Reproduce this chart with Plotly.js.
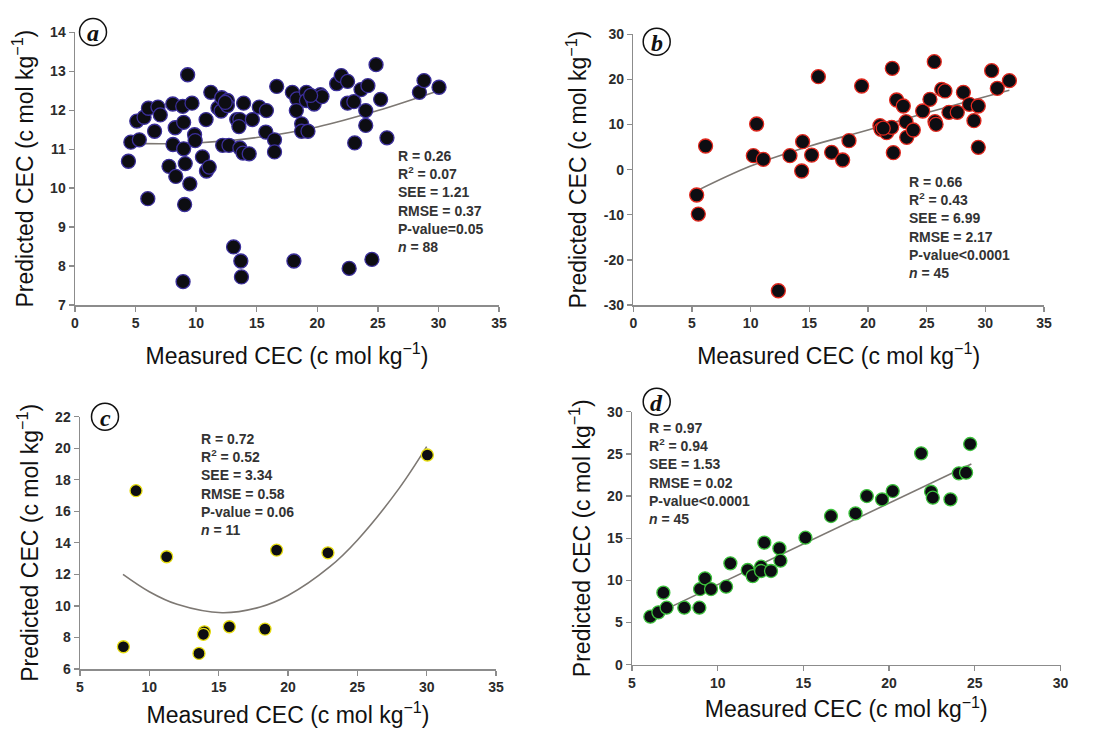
<!DOCTYPE html>
<html><head><meta charset="utf-8">
<script src="https://cdn.plot.ly/plotly-3.0.1.min.js"></script>
<style>html,body{margin:0;padding:0;background:#fff}#chart{width:1106px;height:731px}</style>
</head><body><div id="chart"></div>
<script>
// ---- Panel a ----
const measuredA = [4.41,4.61,5.10,5.31,5.70,6.06,6.01,6.57,6.85,7.04,7.76,8.07,8.09,8.27,8.32,8.89,8.97,8.97,9.10,9.30,9.05,9.48,8.92,9.66,9.87,9.92,10.52,10.82,10.85,11.08,11.21,11.80,12.06,12.11,12.19,12.58,12.58,12.71,13.35,13.61,13.53,13.61,13.87,13.92,14.38,14.64,15.21,15.80,15.75,13.09,13.69,13.74,
  16.47,16.47,16.65,17.94,18.32,18.27,18.71,18.71,19.23,19.10,19.10,19.61,19.74,20.26,20.39,21.60,21.98,22.50,22.50,23.02,23.09,23.61,24.18,24.00,24.00,24.85,25.23,25.75,28.43,28.81,30.05,18.07,22.63,24.51,12.40,19.45];
const predictedA = [10.69,11.18,11.72,11.24,11.82,12.05,9.73,11.46,12.08,11.88,10.56,12.16,11.12,11.55,10.30,12.10,11.69,11.01,10.63,12.91,9.58,10.11,7.60,12.18,11.37,11.22,10.80,11.76,10.44,10.54,12.46,12.06,11.98,12.32,11.10,12.25,12.12,11.10,11.76,11.76,11.58,11.03,10.90,12.18,10.88,11.76,12.08,11.99,11.44,8.49,8.13,7.72,
  11.24,10.93,12.61,12.46,12.29,11.99,11.65,11.46,11.46,12.46,12.25,12.29,12.16,12.40,12.35,12.68,12.89,12.74,12.18,12.22,11.16,12.53,12.63,11.99,11.61,13.17,12.28,11.29,12.46,12.76,12.59,8.13,7.94,8.17,12.20,12.38];
const fitAx = [5.2, 7, 10, 15, 20, 25, 30];
const fitAy = [11.15, 11.14, 11.16, 11.30, 11.57, 11.99, 12.50];
const statsA = ["R = 0.26", "R<sup>2</sup> = 0.07", "SEE = 1.21", "RMSE = 0.37", "P-value=0.05", "<i>n</i> = 88"];

// ---- Panel b ----
const measuredB = [5.40,5.54,6.16,10.23,10.51,11.08,13.35,14.35,14.43,15.20,15.77,16.90,17.84,18.38,19.46,12.36,21.02,21.11,21.59,22.02,22.07,22.16,22.44,23.01,23.24,23.30,23.86,24.66,25.28,25.65,25.71,25.80,26.28,26.56,26.90,27.61,28.13,28.64,29.03,29.40,29.40,30.54,31.02,32.05,21.30];
const predictedB = [-5.62,-9.84,5.24,3.10,10.12,2.28,3.10,-0.30,6.20,3.24,20.61,3.84,2.14,6.42,18.54,-26.84,9.75,8.94,8.20,9.38,22.46,3.76,15.44,14.11,10.64,7.16,8.79,13.00,15.59,23.94,10.64,10.04,17.80,17.44,12.71,12.71,17.14,14.48,10.86,14.11,4.94,21.94,18.03,19.73,9.20];
const fitBx = [5.4, 10, 15, 20, 25, 32.05];
const fitBy = [-4.7, 0.8, 5.2, 8.8, 12.6, 17.6];
const statsB = ["R = 0.66", "R<sup>2</sup> = 0.43", "SEE = 6.99", "RMSE = 2.17", "P-value<0.0001", "<i>n</i> = 45"];
const ticksB = [-30, -20, -10, 0, 10, 20, 30];
const tickTextB = ["-30", "-20", "-10", "0", "10", "20", "30"];

// ---- Panel c ----
const measuredC = [8.13,9.04,11.25,13.58,13.97,13.90,15.77,18.34,19.18,22.88,30.05];
const predictedC = [7.41,17.31,13.12,6.99,8.36,8.20,8.68,8.53,13.54,13.37,19.57];
const fitCx = [8.1, 10, 12, 15.25, 18, 20, 23, 25, 28, 30];
const fitCy = [12.0, 10.9, 10.1, 9.57, 9.93, 10.66, 12.47, 14.17, 17.44, 20.1];
const statsC = ["R = 0.72", "R<sup>2</sup> = 0.52", "SEE = 3.34", "RMSE = 0.58", "P-value = 0.06", "<i>n</i> = 11"];

// ---- Panel d ----
const measuredD = [6.07,6.54,6.83,7.02,8.05,8.93,8.97,9.26,9.61,10.49,10.74,11.75,12.04,12.53,12.53,12.72,13.11,13.60,13.66,15.12,16.61,18.04,18.70,19.59,20.21,21.87,22.45,22.55,23.58,24.07,24.49,24.73];
const predictedD = [5.69,6.21,8.54,6.76,6.76,6.76,8.97,10.24,8.97,9.25,12.02,11.23,10.51,11.62,11.11,14.47,11.11,13.79,12.33,15.06,17.63,17.94,20.00,19.60,20.59,25.06,20.51,19.80,19.60,22.69,22.77,26.17];
const fitDx = [6.07, 24.8];
const fitDy = [5.7, 23.8];
const statsD = ["R = 0.97", "R<sup>2</sup> = 0.94", "SEE = 1.53", "RMSE = 0.02", "P-value<0.0001", "<i>n</i> = 45"];

const panelLetters = ["a", "b", "c", "d"];
const xTitle = "Measured CEC (c mol kg<sup>\u22121</sup>)";
const yTitle = "Predicted CEC (c mol kg<sup>\u22121</sup>)";

const W = 1106, H = 731;
const px = v => v / W, py = v => 1 - v / H;

function pts(x, y, ax, outline, size) {
  return {x: x, y: y, xaxis: 'x' + ax, yaxis: 'y' + ax, type: 'scatter', mode: 'markers',
    marker: {color: '#0d0d12', size: size, line: {color: outline, width: 1.3}}, showlegend: false, hoverinfo: 'x+y'};
}
function fit(x, y, ax) {
  return {x: x, y: y, xaxis: 'x' + ax, yaxis: 'y' + ax, type: 'scatter', mode: 'lines',
    line: {color: '#7d7873', width: 1.6, shape: 'spline'}, showlegend: false, hoverinfo: 'skip'};
}
const data = [
  fit(fitAx, fitAy, ''), pts(measuredA, predictedA, '', '#3b2f9a', 14),
  fit(fitBx, fitBy, '2'), pts(measuredB, predictedB, '2', '#e0281e', 14),
  fit(fitCx, fitCy, '3'), pts(measuredC, predictedC, '3', '#e6dc10', 12),
  fit(fitDx, fitDy, '4'), pts(measuredD, predictedD, '4', '#3cc23c', 13)
];

const tickFont = {family: 'Liberation Sans, Arial, sans-serif', size: 14, color: '#2b2b2b', weight: 700};
const titleFont = {family: 'Liberation Sans, Arial, sans-serif', size: 23, color: '#111'};
function xa(domain, range, anchor, standoff) {
  return {domain: domain, range: range, dtick: 5, tick0: 0, anchor: anchor, showline: true, linecolor: '#8c8c8c', linewidth: 1.5,
    ticks: 'outside', ticklen: 5, tickcolor: '#8c8c8c', tickwidth: 1.3, showgrid: false, zeroline: false, tickfont: tickFont,
    title: {text: xTitle, font: titleFont, standoff: standoff}};
}
function ya(domain, range, dtick, anchor) {
  return {domain: domain, range: range, dtick: dtick, anchor: anchor, showline: true, linecolor: '#8c8c8c', linewidth: 1.5,
    ticks: 'outside', ticklen: 5, tickcolor: '#8c8c8c', tickwidth: 1.3, showgrid: false, zeroline: false, tickfont: tickFont,
    title: {text: yTitle, font: titleFont, standoff: 10}};
}

const yb = ya([py(305), py(34.3)], [-30, 30], 10, 'x2');
yb.tickmode = 'array'; yb.tickvals = ticksB; yb.ticktext = tickTextB;

const annStyle = {family: 'Liberation Sans, Arial, sans-serif', size: 14, color: '#333', weight: 700};
function stats(lines, x, y) {
  return {xref: 'paper', yref: 'paper', x: px(x), y: py(y), xanchor: 'left', yanchor: 'top', align: 'left',
    showarrow: false, text: lines.join('<br>'), font: annStyle};
}
const centers = [[93, 32], [656.7, 41.7], [105, 416.7], [656.7, 401.7]];
const annotations = [
  stats(statsA, 396, 146), stats(statsB, 907, 172), stats(statsC, 199, 429), stats(statsD, 647, 418)
];
const shapes = [];
panelLetters.forEach((L, i) => {
  const [cx, cy] = centers[i], r = 13.5;
  shapes.push({type: 'circle', xref: 'paper', yref: 'paper', x0: px(cx - r), x1: px(cx + r), y0: py(cy + r), y1: py(cy - r),
    line: {color: '#111', width: 1.5}, fillcolor: 'rgba(255,255,255,0)'});
  annotations.push({xref: 'paper', yref: 'paper', x: px(cx), y: py(cy + 1), xanchor: 'center', yanchor: 'middle', showarrow: false,
    text: '<i>' + L + '</i>', font: {family: 'Liberation Serif, Times New Roman, serif', size: 24, color: '#111', weight: 700}});
});

const layout = {
  width: W, height: H, margin: {l: 0, r: 0, t: 0, b: 0}, paper_bgcolor: '#ffffff', plot_bgcolor: 'rgba(0,0,0,0)',
  showlegend: false,
  xaxis: xa([px(75), px(499)], [0, 35], 'y', 17),
  yaxis: ya([py(305), py(32.3)], [7, 14], 1, 'x'),
  xaxis2: xa([px(633.3), px(1044)], [0, 35], 'y2', 17),
  yaxis2: yb,
  xaxis3: xa([px(80), px(496)], [5, 35], 'y3', 12),
  yaxis3: ya([py(669), py(416.7)], [6, 22], 2, 'x3'),
  xaxis4: xa([px(632), px(1060.5)], [5, 30], 'y4', 11),
  yaxis4: ya([py(664.7), py(411.7)], [0, 30], 5, 'x4'),
  annotations: annotations, shapes: shapes
};
Plotly.newPlot('chart', data, layout, {displayModeBar: false, staticPlot: true});
</script></body></html>
